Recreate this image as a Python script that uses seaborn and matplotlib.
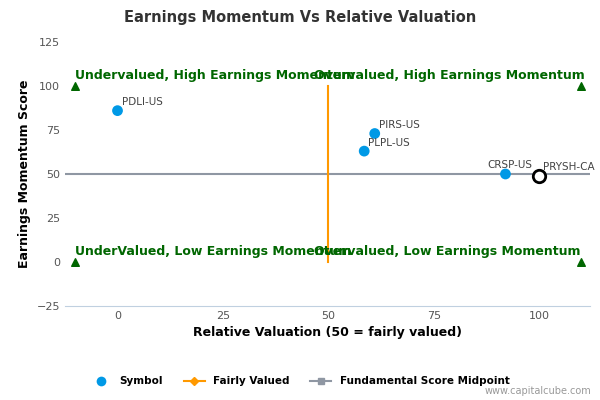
import matplotlib
matplotlib.use("Agg")
import matplotlib.pyplot as plt
import seaborn as sns
import pandas as pd

symbols = ["PDLI-US", "PIRS-US", "PLPL-US", "CRSP-US"]
rel_val = [0, 61, 58.5, 92]
momentum = [86, 73, 63, 50]
focus_name = "PRYSH-CA"
focus_x, focus_y = 100, 49
quad_labels = ["Undervalued, High Earnings Momentum", "Overvalued, High Earnings Momentum",
               "UnderValued, Low Earnings Momentum", "Overvalued, Low Earnings Momentum"]
quad_x = [-10, 50, -10, 50]
quad_y = [100, 100, 0, 0]
corner_x = [-10, 110, -10, 110]
corner_y = [100, 100, 0, 0]

df = pd.DataFrame({"symbol": symbols, "x": rel_val, "y": momentum})

fig = plt.figure(figsize=(6, 4), dpi=100)
ax = fig.add_axes([0.108, 0.235, 0.875, 0.66])
green = "#006600"
ax.axhline(50, color="#8f97a3", lw=1.5, zorder=1)
ax.plot([50, 50], [0, 100], color="#ff9900", lw=1.5, zorder=1)
sns.scatterplot(data=df, x="x", y="y", color="#0099e6", s=60, edgecolor="none", ax=ax, zorder=3, legend=False)
ax.scatter([focus_x], [focus_y], s=80, facecolor="white", edgecolor="black", linewidth=2, zorder=4)
for s, x, y in zip(symbols + [focus_name], rel_val + [focus_x], momentum + [focus_y]):
    ax.text(x + 1, y + 2, s, fontsize=7.5, color="#444444", ha="left" if s != "CRSP-US" else "center", va="bottom")
ax.scatter(corner_x, corner_y, marker="^", color=green, s=30, zorder=3)
for t, x, y in zip(quad_labels, quad_x, quad_y):
    ha = "left"
    ax.text(x if x < 0 else x - 3.5, y + 2, t, color=green, fontsize=9, fontweight="bold", ha=ha, va="bottom")

ax.set_xlim(-12.5, 112)
ax.set_ylim(-25, 125)
ax.set_xticks([0, 25, 50, 75, 100])
ax.set_yticks([-25, 0, 25, 50, 75, 100, 125])
ax.tick_params(labelsize=8, colors="#555555", length=0)
ax.grid(False)
for sp in ["top", "right", "left"]:
    ax.spines[sp].set_visible(False)
ax.spines["bottom"].set_color("#c0d0e0")
ax.set_xlabel("Relative Valuation (50 = fairly valued)", fontsize=9, fontweight="bold")
ax.set_ylabel("Earnings Momentum Score", fontsize=9, fontweight="bold")
fig.suptitle("Earnings Momentum Vs Relative Valuation", fontsize=10.5, fontweight="bold", color="#333333", y=0.975)

from matplotlib.lines import Line2D
handles = [Line2D([], [], marker="o", color="none", markerfacecolor="#0099e6", markeredgecolor="none", markersize=7),
           Line2D([], [], marker="D", color="#ff9900", markersize=4, lw=1.5),
           Line2D([], [], marker="s", color="#8f97a3", markersize=5, lw=1.5)]
fig.legend(handles, ["Symbol", "Fairly Valued", "Fundamental Score Midpoint"], loc="center",
           bbox_to_anchor=(0.5, 0.047), ncol=3, frameon=False, prop={"size": 7.5, "weight": "bold"},
           handlelength=2, columnspacing=2)
fig.text(0.985, 0.015, "www.capitalcube.com", fontsize=7, color="#999999", ha="right")
fig.savefig("out.png")
